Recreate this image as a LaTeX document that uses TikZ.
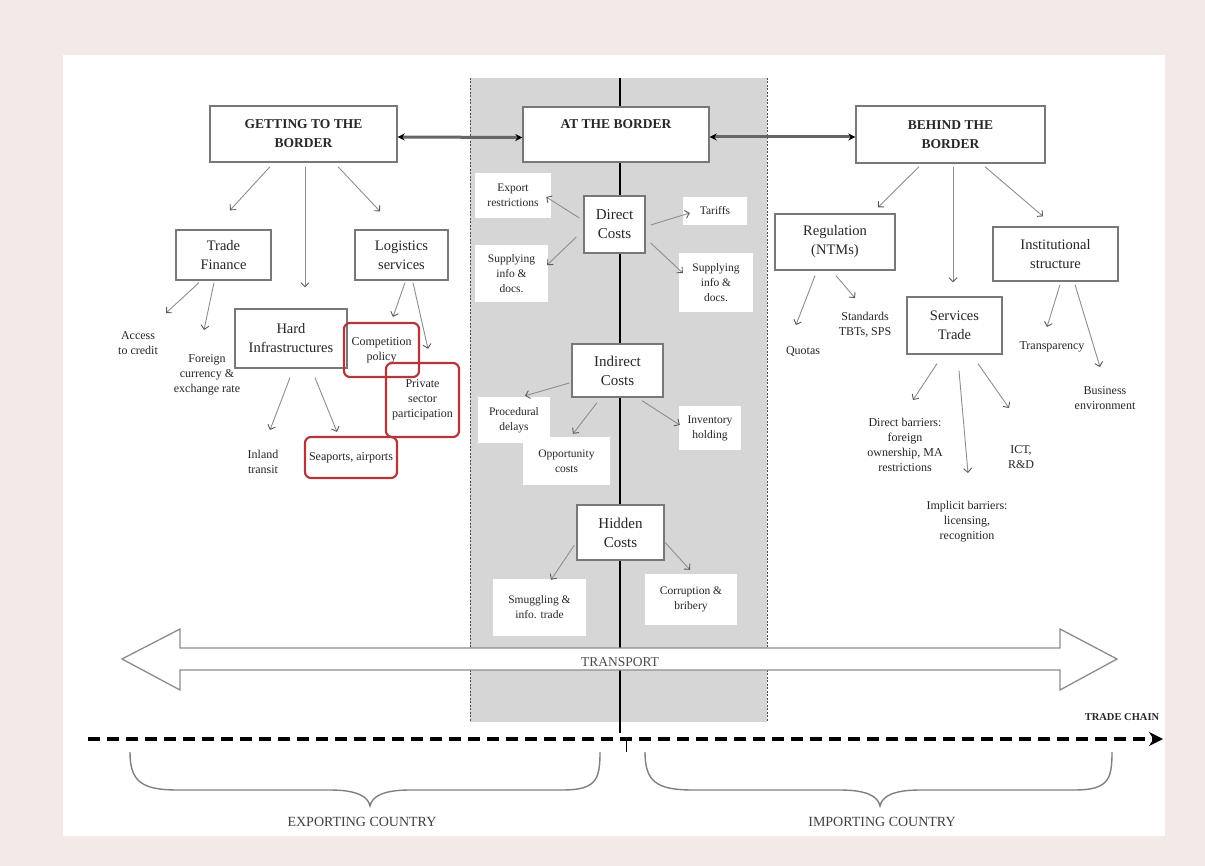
\documentclass[tikz,border=0pt]{standalone}
\usepackage{fontspec}
\setmainfont{Liberation Serif}
\usetikzlibrary{arrows.meta}
\definecolor{bgpink}{HTML}{F3E9E7}
\definecolor{bandgray}{HTML}{D6D6D6}
\definecolor{boxline}{HTML}{787878}
\definecolor{redline}{HTML}{B3363A}
\definecolor{txt}{HTML}{262626}
\definecolor{arrline}{HTML}{8E8E8E}
\begin{document}
\begin{tikzpicture}[x=1pt,y=-1pt,
  every node/.style={text=txt, inner sep=0pt, align=center},
  hbox/.style={draw=boxline, line width=1.4pt, fill=white, font=\fontsize{13.5}{19}\selectfont\bfseries},
  gbox/.style={draw=boxline, line width=1.3pt, fill=white, font=\fontsize{14.5}{19}\selectfont},
  cbox/.style={draw=boxline, line width=1.3pt, fill=white, font=\fontsize{15}{19}\selectfont},
  wbox/.style={fill=white, font=\fontsize{11.5}{15}\selectfont},
  rbox/.style={draw=redline, line width=2.2pt, rounded corners=6pt, font=\fontsize{12}{15}\selectfont},
  lbl/.style={font=\fontsize{12}{15}\selectfont},
  arr/.style={draw=arrline, line width=0.9pt, -{Straight Barb[length=4pt,width=8pt,color=black!65]}},
  harr/.style={draw=black!60, line width=3pt, {Stealth[length=7pt,width=7pt,color=black]}-{Stealth[length=7pt,width=7pt,color=black]}},
]
\useasboundingbox (0,0) rectangle (1205,866);
% background
\fill[bgpink] (0,0) rectangle (1205,866);
\fill[white] (63,55) rectangle (1165,836);
% border band
\fill[bandgray] (470,78) rectangle (767,722);
\draw[black!70, line width=1pt, dash pattern=on 2pt off 1.5pt] (470,78) -- (470,722);
\draw[black!70, line width=1pt, dash pattern=on 2pt off 1.5pt] (767,78) -- (767,722);
\draw[black, line width=2pt] (620,78) -- (620,733);
\draw[black, line width=0.8pt] (626,741) -- (626,752);
% transport arrow
\draw[draw=black!45, line width=1.3pt, fill=white] (122,659) -- (180,629) -- (180,648) -- (1060,648) -- (1060,629) -- (1117,659) -- (1060,690) -- (1060,670) -- (180,670) -- (180,690) -- cycle;
\node[font=\fontsize{13.5}{16}\selectfont, text=black!70] (transport) at (620,662) {TRANSPORT};
% trade chain
\draw[black, line width=4pt, dash pattern=on 12pt off 7pt, -{Stealth[length=14pt,width=14pt]}] (88,739) -- (1163,739);
\node[font=\fontsize{10.5}{12}\selectfont\bfseries] (tradechain) at (1122,717) {TRADE CHAIN};
% braces
\draw[black!50, line width=1.4pt] (130,752) .. controls (130,782) and (142,790) .. (178,790) -- (330,790) .. controls (356,790) and (368,796) .. (370,806) .. controls (372,796) and (384,790) .. (410,790) -- (562,790) .. controls (596,790) and (600,780) .. (600,752);
\draw[black!50, line width=1.4pt] (645,752) .. controls (645,782) and (657,790) .. (693,790) -- (840,790) .. controls (866,790) and (878,796) .. (880,806) .. controls (882,796) and (894,790) .. (920,790) -- (1074,790) .. controls (1108,790) and (1112,780) .. (1112,752);
\node[font=\fontsize{14}{15}\selectfont, text=black!75] (exporting) at (362,822) {EXPORTING COUNTRY};
\node[font=\fontsize{14}{15}\selectfont, text=black!75] (importing) at (882,822) {IMPORTING COUNTRY};

% header boxes
\node[hbox, minimum width=187, minimum height=56] (getting) at (303.5,134) {GETTING TO THE\\BORDER};
\node[hbox, minimum width=186, minimum height=55] (atb) at (616,134.5) {};
\node[font=\fontsize{13.5}{19}\selectfont\bfseries] (atbt) at (616,124) {AT THE BORDER};
\node[hbox, minimum width=189, minimum height=57] (behind) at (950.5,134.5) {BEHIND THE\\BORDER};
\draw[harr] ([shift={(0,3)}]getting.east) -- ([shift={(0,3)}]atb.west);
\draw[harr] ([shift={(0,2.5)}]atb.east) -- ([shift={(0,2.5)}]behind.west);

% left side
\node[gbox, minimum width=95, minimum height=50] (tradefin) at (223.5,255) {Trade\\Finance};
\node[gbox, minimum width=93, minimum height=50] (logistics) at (401.5,255) {Logistics\\services};
\node[gbox, minimum width=112, minimum height=59] (hard) at (291,338.5) {Hard\\Infrastructures};
\node[rbox, minimum width=75, minimum height=54] (compet) at (381.5,350) {Competition\\policy};
\node[rbox, minimum width=73, minimum height=74] (private) at (422.5,400) {Private\\sector\\participation};
\node[rbox, minimum width=92, minimum height=41] (seaports) at (351,457.5) {Seaports, airports};
\node[lbl] (access) at (138,343) {Access\\to credit};
\node[lbl] (foreign) at (207,375) {Foreign\\currency \&\\exchange rate};
\node[lbl] (inland) at (263,462) {Inland\\transit};

\draw[arr] ([shift={(-33.5,4)}]getting.south) -- ([shift={(6.5,-19)}]tradefin.north);
\draw[arr] ([shift={(1.5,4)}]getting.south) -- ([shift={(14,-21)}]hard.north);
\draw[arr] ([shift={(34.5,4)}]getting.south) -- ([shift={(-21.5,-18)}]logistics.north);
\draw[arr] ([shift={(-24.5,2)}]tradefin.south) -- ([shift={(28,-30)}]access.center);
\draw[arr] ([shift={(-9.5,2)}]tradefin.south) -- ([shift={(-3,-45)}]foreign.center);
\draw[arr] ([shift={(3.5,2)}]logistics.south) -- ([shift={(11.5,-5)}]compet.north);
\draw[arr] ([shift={(11.5,2)}]logistics.south) -- ([shift={(5.5,-13)}]private.north);
\draw[arr] ([shift={(-1,9)}]hard.south) -- ([shift={(7,-32)}]inland.center);
\draw[arr] ([shift={(24,9)}]hard.south) -- ([shift={(-14,-4)}]seaports.north);

% center
\node[cbox, minimum width=61, minimum height=57] (direct) at (614.5,224.5) {Direct\\Costs};
\node[wbox, minimum width=76, minimum height=45] (exportr) at (513,195.5) {Export\\restrictions};
\node[wbox, minimum width=64, minimum height=28] (tariffs) at (715,211) {Tariffs};
\node[wbox, minimum width=73, minimum height=57] (supL) at (511.5,273.5) {Supplying\\info \&\\docs.};
\node[wbox, minimum width=74, minimum height=59] (supR) at (716,282.5) {Supplying\\info \&\\docs.};
\node[cbox, minimum width=91, minimum height=53] (indirect) at (617.5,370.5) {Indirect\\Costs};
\node[wbox, minimum width=72, minimum height=46] (procedural) at (514,420) {Procedural\\delays};
\node[wbox, minimum width=87, minimum height=48] (opportunity) at (566.5,461) {Opportunity\\costs};
\node[wbox, minimum width=62, minimum height=44] (inventory) at (710,428) {Inventory\\holding};
\node[cbox, minimum width=87, minimum height=55] (hidden) at (620.5,532.5) {Hidden\\Costs};
\node[wbox, minimum width=93, minimum height=57] (smuggling) at (539.5,607.5) {Smuggling \&\\info. trade};
\node[wbox, minimum width=92, minimum height=51] (corruption) at (691,599.5) {Corruption \&\\bribery};

\draw[arr] ([shift={(-4,-6.5)}]direct.west) -- ([shift={(-5,1.5)}]exportr.east);
\draw[arr] ([shift={(5,0.5)}]direct.east) -- ([shift={(7,2)}]tariffs.west);
\draw[arr] ([shift={(-7,12.5)}]direct.west) -- ([shift={(-1,-8.5)}]supL.east);
\draw[arr] ([shift={(5,18.5)}]direct.east) -- ([shift={(4,-9.5)}]supR.west);
\draw[arr] ([shift={(-2,12.5)}]indirect.west) -- ([shift={(11,-1)}]procedural.north);
\draw[arr] ([shift={(-20.5,5)}]indirect.south) -- ([shift={(6.5,-3)}]opportunity.north);
\draw[arr] ([shift={(24.5,3)}]indirect.south) -- ([shift={(1,-3)}]inventory.west);
\draw[arr] ([shift={(-2,12.5)}]hidden.west) -- ([shift={(11.5,1)}]smuggling.north);
\draw[arr] ([shift={(0,9.5)}]hidden.east) -- ([shift={(-1,-4)}]corruption.north);

% right side
\node[gbox, minimum width=120, minimum height=56] (regulation) at (835,242) {Regulation\\(NTMs)};
\node[gbox, minimum width=125, minimum height=54] (institutional) at (1055.5,254) {Institutional\\structure};
\node[gbox, minimum width=95, minimum height=57] (services) at (954.5,325.5) {Services\\Trade};
\node[lbl] (quotas) at (803,352) {Quotas};
\node[lbl] (standards) at (865,325) {Standards\\TBTs, SPS};
\node[lbl] (transparency) at (1052,347) {Transparency};
\node[lbl] (business) at (1105,398) {Business\\environment};
\node[lbl] (directbar) at (905,445) {Direct barriers:\\foreign\\ownership, MA\\restrictions};
\node[lbl] (implicit) at (967,522) {Implicit barriers:\\licensing,\\recognition};
\node[lbl] (ict) at (1021,457) {ICT,\\R\&D};

\draw[arr] ([shift={(-31.5,3)}]behind.south) -- ([shift={(43,-6)}]regulation.north);
\draw[arr] ([shift={(2.5,3)}]behind.south) -- ([shift={(-1.5,-14)}]services.north);
\draw[arr] ([shift={(34.5,3)}]behind.south) -- ([shift={(-12.5,-10)}]institutional.north);
\draw[arr] ([shift={(-20,5)}]regulation.south) -- ([shift={(-7,-27)}]quotas.center);
\draw[arr] ([shift={(1,5)}]regulation.south) -- ([shift={(-10,-27)}]standards.center);
\draw[arr] ([shift={(4.5,3)}]institutional.south) -- ([shift={(-5,-20)}]transparency.center);
\draw[arr] ([shift={(19.5,3)}]institutional.south) -- ([shift={(-5,-31)}]business.center);
\draw[arr] ([shift={(-17.5,9)}]services.south) -- ([shift={(8,-45)}]directbar.center);
\draw[arr] ([shift={(4.5,16)}]services.south) -- ([shift={(1,-49)}]implicit.center);
\draw[arr] ([shift={(23.5,9)}]services.south) -- ([shift={(-12,-49)}]ict.center);
\end{tikzpicture}
\end{document}
